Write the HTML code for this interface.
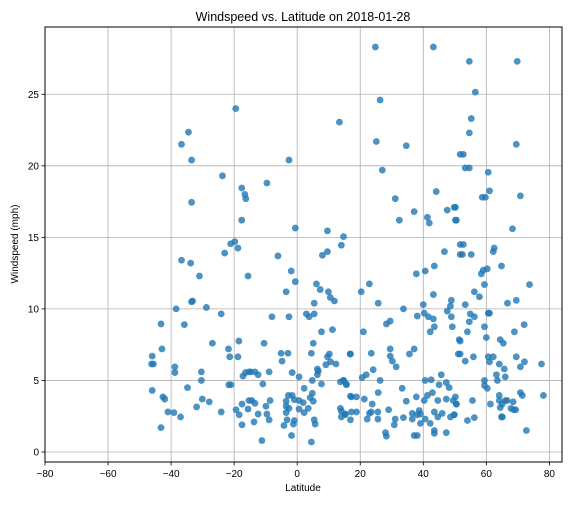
<!DOCTYPE html>
<html><head><meta charset="utf-8"><style>
body{margin:0;background:#fff;}
svg text{font-family:"Liberation Sans","DejaVu Sans",sans-serif;fill:#000;}
</style></head><body>
<svg id="chart" width="576" height="504" xmlns="http://www.w3.org/2000/svg">
<rect x="0" y="0" width="576" height="504" fill="#fff"/>
<text x="303" y="21" font-size="12.5" text-anchor="middle">Windspeed vs. Latitude on 2018-01-28</text>
<g id="grid"></g><g id="ticks"></g><g id="points"></g>
<rect x="45" y="27" width="517" height="435" fill="none" stroke="#000" stroke-width="1"/>
<text x="303" y="491" font-size="10" text-anchor="middle">Latitude</text>
<text transform="translate(18,244) rotate(-90)" font-size="10" text-anchor="middle">Windspeed (mph)</text>
</svg>
<script>
const xTicks=[-80,-60,-40,-20,0,20,40,60,80];
const yTicks=[0,5,10,15,20,25];
const lat=[-38.4,-33.5,-28.8,-24.1,-43.2,-35.8,-26.9,-42.9,-21.8,-18.5,-21.4,-18.8,-46,-46.2,-45.6,-38.8,-38.8,-30.4,-30.4,-34.8,-46,-21.7,-42.6,-42,-30.1,-27.9,-31.9,-41,-39.1,-37,-24.1,-43.2,-17.5,-19.4,-18.4,-17.5,-17.2,-16.4,-15.3,-15.6,-15.3,
-19.5,-34.5,-36.7,-33.5,-2.6,13.4,-23.7,-17.6,-16.6,-16.3,-9.6,-33.5,-17.6,-0.6,9.6,14.7,14,9.6,8,-21.1,-19.8,-18.8,-23,-6.1,-36.7,-33.8,-1.9,-31,-15.6,-0.6,-3.5,6.1,7.3,9.9,10.5,11.8,5.4,-33.2,
-8,-2.6,2.9,3.8,5.4,7.7,11.2,-10.5,-5.1,-2.9,-4.8,5.1,4.5,9.6,10.2,9.1,10.6,12.3,16.9,6.4,6.7,6.4,4.8,7.7,-1.6,0.6,-8.9,-10.9,-14.7,-13.4,-12.4,2.2,-2.8,-1.6,-3.5,-0.9,0.6,1.9,4.1,4.8,5.1,-3.5,-2.6,0.6,3.5,2.2,-3.5,-3.2,-0.9,-4.2,-1.2,5.4,5.7,-1.8,4.5,13.7,14.7,15.6,16.9,13.7,14,15.3,14,16.9,-8.6,-9.9,-9.6,-8.9,-13.4,-12.4,-13.7,-11.2,-14.4,-21,
24.8,43.2,26.3,25.1,34.6,51.7,27,44.1,31.1,37.1,32.4,41.3,41.9,47.6,49.8,50.2,51.7,51.7,46.7,43.5,40.6,37.8,22.9,20.3,25.7,33.7,40,43.2,48.9,48.6,47.6,48.9,49.2,38.1,40.3,41.6,43.2,43.5,42.2,28.3,29.5,21,16.8,23.5,29.5,29.5,30.2,31.4,37.1,35.6,51.4,51.1,24.1,21.9,20.6,26.3,14.7,15.6,45.7,40.6,42.5,45,47.3,48.2,33.3,25.7,17.2,18.8,21.3,23.8,34.6,37.8,41.3,42.9,40.3,44.6,47.3,49.5,50.5,18.8,17.2,15.2,23.5,25.6,29,22.9,22.2,25.6,31.1,30.8,33.7,36.5,38.7,38.1,39.1,39.1,36.5,40.6,42.2,43.5,44.6,46,48.6,49.8,28,28.3,37.1,38.1,43.5,43.5,47.3,
54.6,69.8,56.5,55.2,54.6,69.5,52.7,53.3,54.6,60.6,61,58.7,59.7,70.8,50.2,50.5,68.3,52.7,52.4,55.2,62.5,62.2,64.8,60.3,59,58.4,59.4,73.7,56.2,57.8,66.7,69.5,53.3,54.9,56.2,60.6,61,54.6,59.4,72,68.9,54,60,51.7,64.4,65.4,51.7,53.3,55.9,60.6,62.2,61,64.1,65.7,66,63.2,63.5,69.5,72.1,70.8,77.5,59.4,59.4,60.3,55.6,61.3,64.1,64.1,65,66,66.6,68.5,64.4,67.8,69.3,68.7,70.8,71.4,78.1,64.8,65.1,56.2,54,72.7,50.5,50.2,49.8];
const wind=[10.0,10.5,10.1,9.65,8.95,8.9,7.6,7.2,7.2,7.75,6.65,6.65,6.7,6.15,6.15,5.95,5.55,5.6,5.0,4.5,4.3,4.7,3.85,3.7,3.7,3.5,3.15,2.8,2.75,2.45,2.8,1.7,3.35,2.95,2.6,1.9,5.3,5.55,5.6,3.0,3.6,
24.0,22.35,21.5,20.4,20.4,23.05,19.3,18.45,18.0,17.7,18.8,17.45,16.2,15.65,15.45,15.05,14.45,14.0,13.75,14.55,14.7,14.25,13.9,13.7,13.4,13.2,12.65,12.3,12.3,11.9,11.2,11.75,11.35,11.2,10.8,10.55,10.4,10.55,
9.45,9.45,9.65,9.45,9.65,8.4,8.55,7.6,6.9,6.9,6.35,7.6,6.9,6.65,6.85,6.1,6.3,6.15,6.85,5.8,5.65,5.4,5.0,4.75,5.55,5.25,5.6,4.75,5.6,5.6,5.4,4.45,3.95,3.95,3.55,3.65,3.6,3.45,3.8,4.1,3.55,3.2,3.05,3.0,3.05,2.75,2.75,2.25,2.2,1.85,1.95,2.25,1.95,1.15,0.7,4.9,5.0,4.75,3.9,3.05,2.85,2.65,2.45,2.25,3.6,3.2,2.65,2.25,3.4,2.65,2.1,0.8,3.6,4.7,
28.3,28.3,24.6,21.7,21.4,20.8,19.7,18.2,17.7,16.8,16.2,16.4,16.0,16.9,17.1,16.2,14.5,13.8,14.0,13.0,12.65,12.45,11.75,11.2,10.4,10.0,10.3,11.0,10.6,10.2,9.85,9.45,8.75,9.5,9.7,9.45,9.3,8.75,8.4,8.95,9.15,8.4,6.85,6.9,7.2,6.7,6.35,5.95,7.2,6.85,7.85,6.85,5.75,5.4,5.2,5.0,5.0,4.7,5.4,5.0,5.05,4.7,4.85,4.5,4.45,4.15,3.85,3.85,3.7,3.35,3.55,3.85,3.95,4.15,3.6,3.6,3.7,3.6,3.35,2.8,2.8,2.6,2.8,2.8,2.95,2.7,2.3,2.3,2.3,1.9,2.4,2.7,2.9,2.6,2.65,2.0,2.3,2.3,2.0,2.8,2.45,2.7,2.45,2.6,1.35,1.1,1.15,1.15,1.5,1.3,1.35,
27.3,27.3,25.15,23.3,22.3,21.5,20.8,19.85,19.85,19.55,18.25,17.8,17.8,17.9,17.1,16.2,15.6,14.5,13.8,13.8,14.25,14.0,13.0,12.8,12.7,12.45,11.7,11.7,11.2,10.85,10.4,10.6,10.3,9.65,9.45,9.7,9.7,9.1,8.75,8.9,8.4,8.4,8.0,7.75,7.85,7.6,6.85,6.35,6.65,6.65,6.65,6.3,6.15,5.8,5.25,5.4,5.0,6.65,6.3,5.95,6.15,5.0,4.65,4.45,3.6,3.35,3.95,3.6,3.35,3.6,3.6,3.5,3.1,3.05,2.95,2.95,4.15,3.95,3.95,2.45,2.45,2.4,2.2,1.5,3.35,3.85,2.6];
const NS='http://www.w3.org/2000/svg';
const L=45,R=562,T=27,B=462,XMIN=-80,XMAX=84,YMIN=-0.7,YMAX=29.7;
function sx(v){return L+(v-XMIN)/(XMAX-XMIN)*(R-L);}
function sy(v){return B-(v-YMIN)/(YMAX-YMIN)*(B-T);}
function mk(t,a){const e=document.createElementNS(NS,t);for(const k in a)e.setAttribute(k,a[k]);return e;}
const grid=document.getElementById('grid'),ticks=document.getElementById('ticks'),pts=document.getElementById('points');
xTicks.forEach(v=>{const x=sx(v);
 const g=mk('line',{x1:x,x2:x,y1:T,y2:B,stroke:'#b0b0b0','stroke-width':0.8});
 
 
 grid.appendChild(g);
 const tk=mk('line',{x1:x,x2:x,y1:B,y2:B+3.5,stroke:'#000','stroke-width':0.8});
 
 
 ticks.appendChild(tk);
 const t=mk('text',{x:x,y:B+15,'font-size':10,'text-anchor':'middle'});
 t.textContent=v<0?'\u2212'+(-v):String(v);
 
 
 ticks.appendChild(t);});
yTicks.forEach(v=>{const y=sy(v);
 const g=mk('line',{x1:L,x2:R,y1:y,y2:y,stroke:'#b0b0b0','stroke-width':0.8});
 
 
 grid.appendChild(g);
 const tk=mk('line',{x1:L-3.5,x2:L,y1:y,y2:y,stroke:'#000','stroke-width':0.8});
 
 
 ticks.appendChild(tk);
 const t=mk('text',{x:L-6,y:y+3.5,'font-size':10,'text-anchor':'end'});
 t.textContent=String(v);
 
 
 ticks.appendChild(t);});
for(let i=0;i<lat.length;i++){
 const c=mk('circle',{cx:sx(lat[i]),cy:sy(wind[i]),r:3.4,fill:'#1f77b4','fill-opacity':0.8});
 
 
 pts.appendChild(c);}
</script>
</body></html>
